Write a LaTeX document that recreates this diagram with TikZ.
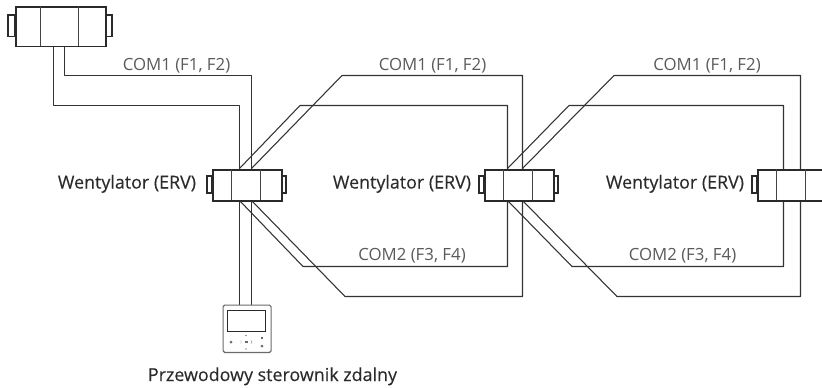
\documentclass[tikz,border=0pt]{standalone}
\usepackage{fontspec}
\setmainfont{Open Sans}
\newfontfamily\namefont[FakeBold=0.2]{Open Sans}
\definecolor{boxc}{HTML}{2A2A2A}
\definecolor{wirec}{HTML}{333333}
\definecolor{divc}{HTML}{444444}
\definecolor{labelc}{HTML}{5A5A5A}
\definecolor{namec}{HTML}{2B2B2B}
\definecolor{ctrlc}{HTML}{6A6A6A}
\tikzset{
  x=0.75pt,y=-0.75pt,
  wire/.style={draw=wirec,line width=0.8pt,line join=round},
  casing/.style={draw=boxc,line width=1.3pt,fill=white},
  divider/.style={draw=divc,line width=0.8pt},
  comlabel/.style={text=labelc,font=\fontsize{12.6pt}{14pt}\selectfont,inner sep=0pt,anchor=base},
  namelabel/.style={text=namec,font=\namefont\fontsize{13.4pt}{15pt}\selectfont,inner sep=0pt,anchor=base},
  ctrl/.style={draw=ctrlc,line width=0.9pt,rounded corners=1.2pt,fill=white},
  ctrlscreen/.style={draw=boxc,line width=0.75pt},
}
\newcommand{\ervunit}[5]{% name, left, right, top, bottom (with tabs)
  \pgfmathsetmacro{\ww}{#3-#2}
  \pgfmathsetmacro{\hh}{#5-#4}
  \pgfmathsetmacro{\tabw}{\ww*0.075}
  \draw[casing] ({#2-\tabw},{#4+\hh*0.23}) rectangle (#2,{#5-\hh*0.23});
  \draw[casing] (#3,{#4+\hh*0.23}) rectangle ({#3+\tabw},{#5-\hh*0.23});
  \node[casing,rectangle,inner sep=0pt,minimum width=\ww*0.75pt,minimum height=\hh*0.75pt,anchor=north west] (#1) at (#2,#4) {};
  \draw[divider] ({#2+\ww*0.285},#4) -- ({#2+\ww*0.285},#5);
  \draw[divider] ({#2+\ww*0.705},#4) -- ({#2+\ww*0.705},#5);
}
\begin{document}
\begin{tikzpicture}
\path[use as bounding box] (0,0) rectangle (822,387);
\begin{scope}
\clip (0,0) rectangle (822,387);
\coordinate (a1) at (239.5,168.5);
\coordinate (b1) at (251.5,168.5);
\coordinate (c1) at (239.5,200.5);
\coordinate (d1) at (251.5,200.5);
\coordinate (a2) at (507.5,168.5);
\coordinate (b2) at (522.5,168.5);
\coordinate (c2) at (507.5,200.5);
\coordinate (d2) at (522.5,200.5);
\draw[wire] (53.5,46) |- (239.5,105.5) -- (a1);
\draw[wire] (64.5,46) |- (251.5,75.5) -- (b1);
\draw[wire] (a1) -- (300,105.5) -- (507.5,105.5) -- (507.5,266.5) -- (303,266.5) -- (c1);
\draw[wire] (b1) -- (342,75.5) -- (522.5,75.5) -- (522.5,296.5) -- (345,296.5) -- (d1);
\draw[wire] (a2) -- (569,105.5) -- (783.5,105.5) -- (783.5,266.5) -- (572,266.5) -- (c2);
\draw[wire] (b2) -- (614,75.5) -- (800.5,75.5) -- (800.5,296.5) -- (617,296.5) -- (d2);
\draw[wire] (239.5,200) -- (239.5,305);
\draw[wire] (251.5,200) -- (251.5,305);
\ervunit{top}{15}{105}{6}{45.5}
\ervunit{erva}{212}{281}{169}{200}
\ervunit{ervb}{484}{553}{169}{200}
\ervunit{ervc}{757}{826}{169}{200}
\end{scope}
\node[ctrl,rectangle,minimum width=36pt,minimum height=35.5pt,inner sep=0pt,anchor=north west] (rc) at (222.5,304.5) {};
\draw[ctrlscreen] (227.5,310) rectangle (265.5,331.5);
\foreach \p in {(246,335.5),(246,349)}{\fill[boxc] \p circle (0.7);}
\foreach \p in {(231,342),(262,346)}{\fill[ctrlc] \p circle (1.5);}
\fill[ctrlc] (244.5,341) rectangle (247.5,343);
\fill[ctrlc] (261,337) rectangle (263,339);
\draw[ctrlc,line width=0.3pt] (241,340.5) -- (241,343.5) (251,340.5) -- (252,342) -- (251,343.5);
% labels
\node[comlabel] (l1) at (176.5,70) {COM1 (F1, F2)};
\node[comlabel] (l2) at (432.5,70) {COM1 (F1, F2)};
\node[comlabel] (l3) at (707,70) {COM1 (F1, F2)};
\node[comlabel] (l4) at (412,260) {COM2 (F3, F4)};
\node[comlabel] (l5) at (682.5,260) {COM2 (F3, F4)};
\node[namelabel] (n1) at (127,188.5) {Wentylator (ERV)};
\node[namelabel] (n2) at (402,188.5) {Wentylator (ERV)};
\node[namelabel] (n3) at (675,188.5) {Wentylator (ERV)};
\node[namelabel] (n4) at (272.5,381) {Przewodowy sterownik zdalny};
\end{tikzpicture}
\end{document}
